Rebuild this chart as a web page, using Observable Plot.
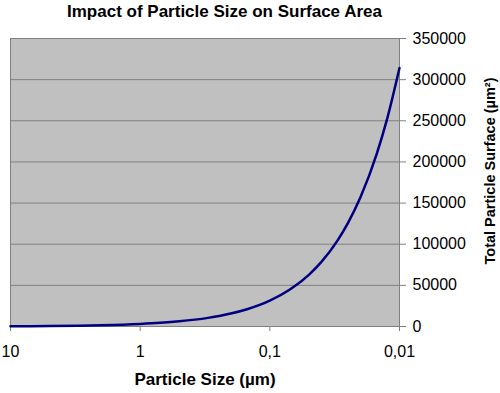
<!DOCTYPE html>
<html>
<head>
<meta charset="utf-8">
<script src="https://cdn.jsdelivr.net/npm/d3@7"></script>
<script src="https://cdn.jsdelivr.net/npm/@observablehq/plot@0.6"></script>
<style>
  html, body { margin: 0; padding: 0; background: #fff; }
  #wrap { position: relative; width: 500px; height: 393px; font-family: "Liberation Sans", Arial, sans-serif; }
  .lbl { position: absolute; font-weight: bold; color: #000; white-space: nowrap; line-height: normal; }
  #title { left: 0; width: 449px; top: 2px; text-align: center; font-size: 17px; }
  #xlabel { left: 105px; width: 200px; top: 370px; text-align: center; font-size: 17px; }
  #ylabel { left: 490px; top: 171px; transform: translate(-50%, -50%) rotate(-90deg); font-size: 14.5px; }
</style>
</head>
<body>
<div id="wrap">
  <div id="chart"></div>
  <div class="lbl" id="title">Impact of Particle Size on Surface Area</div>
  <div class="lbl" id="xlabel">Particle Size (µm)</div>
  <div class="lbl" id="ylabel">Total Particle Surface (µm²)</div>
</div>
<script>
const sizes = [10, 7, 5, 3, 2, 1, 0.7, 0.5, 0.3, 0.2, 0.15, 0.1, 0.07, 0.05, 0.04, 0.03, 0.025, 0.02, 0.015, 0.0125, 0.01];
const surfaces = [314, 449, 628, 1047, 1571, 3142, 4488, 6283, 10472, 15708, 20944, 31416, 44880, 62832, 78540, 104720, 125664, 157080, 209440, 251327, 314159];
const xTicks = [10, 1, 0.1, 0.01];
const yTicks = [0, 50000, 100000, 150000, 200000, 250000, 300000, 350000];

const data = sizes.map((s, i) => ({size: s, surface: surfaces[i]}));

const chart = Plot.plot({
  width: 500,
  height: 393,
  marginLeft: 10,
  marginRight: 101,
  marginTop: 38,
  marginBottom: 67,
  style: {fontFamily: "'Liberation Sans', Arial, sans-serif", fontSize: "16px", color: "#000", background: "transparent"},
  x: {type: "log", domain: [10, 0.01]},
  y: {domain: [0, 350000]},
  marks: [
    Plot.frame({fill: "#c0c0c0", stroke: "none"}),
    Plot.gridY(yTicks, {stroke: "#808080", strokeOpacity: 1, strokeWidth: 1}),
    Plot.frame({stroke: "#808080", strokeWidth: 1}),
    Plot.axisY(yTicks, {anchor: "right", tickSize: 6, tickPadding: 7, tickFormat: d => String(d), label: null, stroke: "#808080"}),
    Plot.axisX(xTicks, {anchor: "bottom", tickSize: 5, tickPadding: 14, tickFormat: d => String(d).replace(".", ","), label: null, stroke: "#808080"}),
    Plot.line(data, {x: "size", y: "surface", stroke: "#000080", strokeWidth: 2.5, curve: "monotone-x"})
  ]
});
document.getElementById("chart").appendChild(chart);
</script>
</body>
</html>
